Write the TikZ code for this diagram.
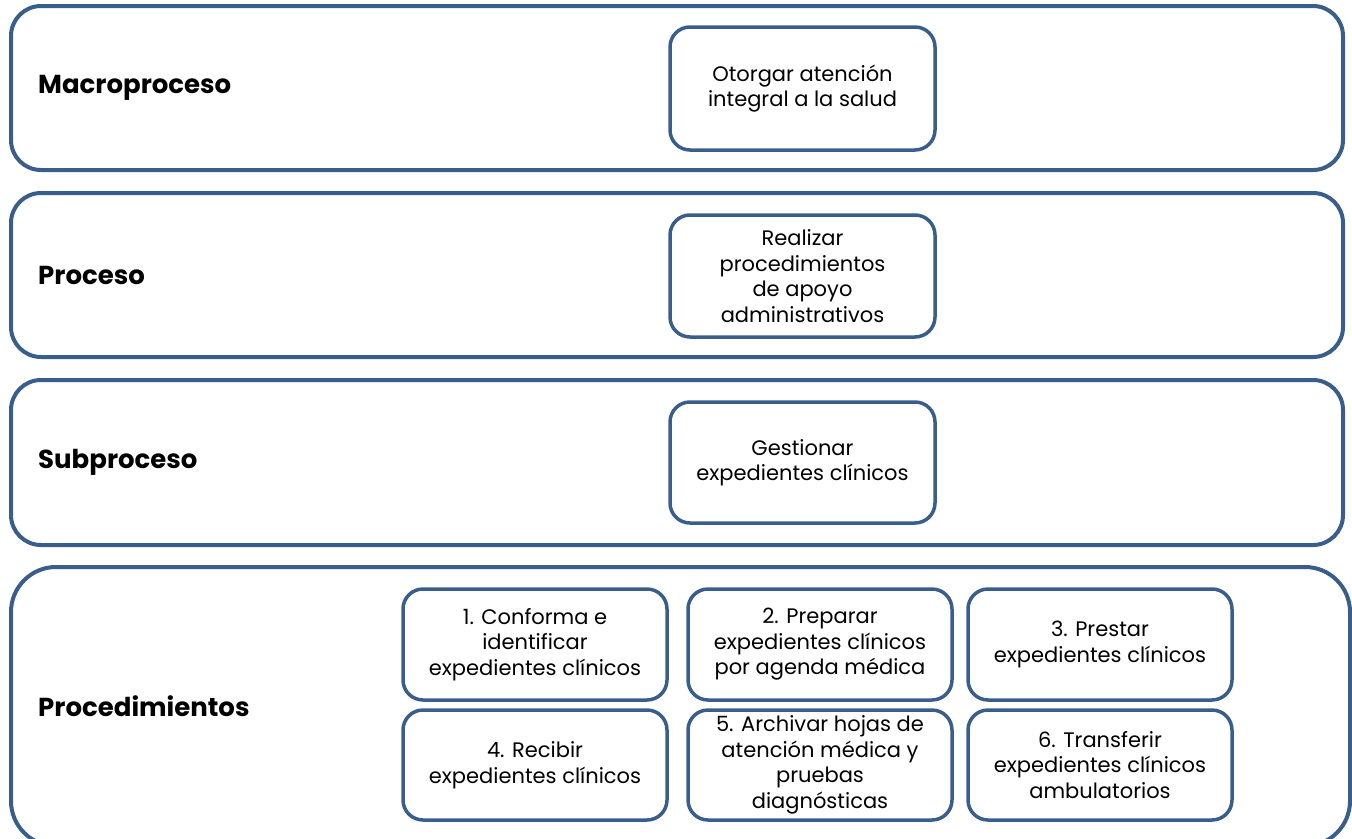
\documentclass[tikz,border=0pt]{standalone}
\usepackage{fontspec}
\setmainfont{Poppins}
\usepackage{tikz}
\usepackage{xcolor}
\usetikzlibrary{positioning, calc}

\definecolor{bandblue}{RGB}{58,94,140}

\begin{document}
\begin{tikzpicture}[
    x=1pt, y=-1pt,
    band/.style={rectangle, draw=bandblue, line width=4pt, rounded corners=30pt, inner sep=0pt, outer sep=0pt, minimum width=1332pt},
    lbl/.style={inner sep=0pt, font=\fontsize{26}{30}\selectfont\bfseries},
    box/.style={rectangle, draw=bandblue, line width=3.5pt, rounded corners=20pt, align=center, inner sep=0pt, outer sep=0pt, font=\fontsize{21}{25.5}\selectfont},
    node distance=10pt
]
\useasboundingbox (0,0) rectangle (1352,838);

% Bands
\node[band, minimum height=164pt] (macro) at (677,88) {};
\node[band, minimum height=164pt] (proc) at (677,275) {};
\node[band, minimum height=165pt] (sub) at (677,462.5) {};
\node[band, minimum height=279pt, minimum width=1339pt, rounded corners=45pt] (pdim) at (680.5,706.5) {};

% Labels
\node[lbl, right=27pt of macro.west] (lmacro) {Macroproceso};
\node[lbl, right=27pt of proc.west] (lproc) {Proceso};
\node[lbl, right=27pt of sub.west] (lsub) {Subproceso};
\node[lbl, right=27pt of pdim.west] (lpdim) {Procedimientos};

% Top boxes
\node[box, minimum width=265pt, minimum height=123pt] (otorgar) at (802.5,88.5) {Otorgar atención\\integral a la salud};
\node[box, minimum width=265pt, minimum height=122pt] (realizar) at (802.5,276) {Realizar\\procedimientos\\de apoyo\\administrativos};
\node[box, minimum width=265pt, minimum height=121pt] (gestionar) at (802.5,462.5) {Gestionar\\expedientes clínicos};

% Procedures
\node[box, minimum width=264pt, minimum height=111pt] (p1) at (535,644.5) {1. Conforma e\\identificar\\expedientes clínicos};
\node[box, minimum width=264pt, minimum height=111pt, right=21pt of p1] (p2) {2. Preparar\\expedientes clínicos\\por agenda médica};
\node[box, minimum width=264pt, minimum height=111pt, right=16pt of p2] (p3) {3. Prestar\\expedientes clínicos};
\node[box, minimum width=264pt, minimum height=110pt, below=10pt of p1] (p4) {4. Recibir\\expedientes clínicos};
\node[box, minimum width=264pt, minimum height=110pt, below=10pt of p2] (p5) {5. Archivar hojas de\\atención médica y\\pruebas\\diagnósticas};
\node[box, minimum width=264pt, minimum height=110pt, below=10pt of p3] (p6) {6. Transferir\\expedientes clínicos\\ambulatorios};

\end{tikzpicture}
\end{document}
